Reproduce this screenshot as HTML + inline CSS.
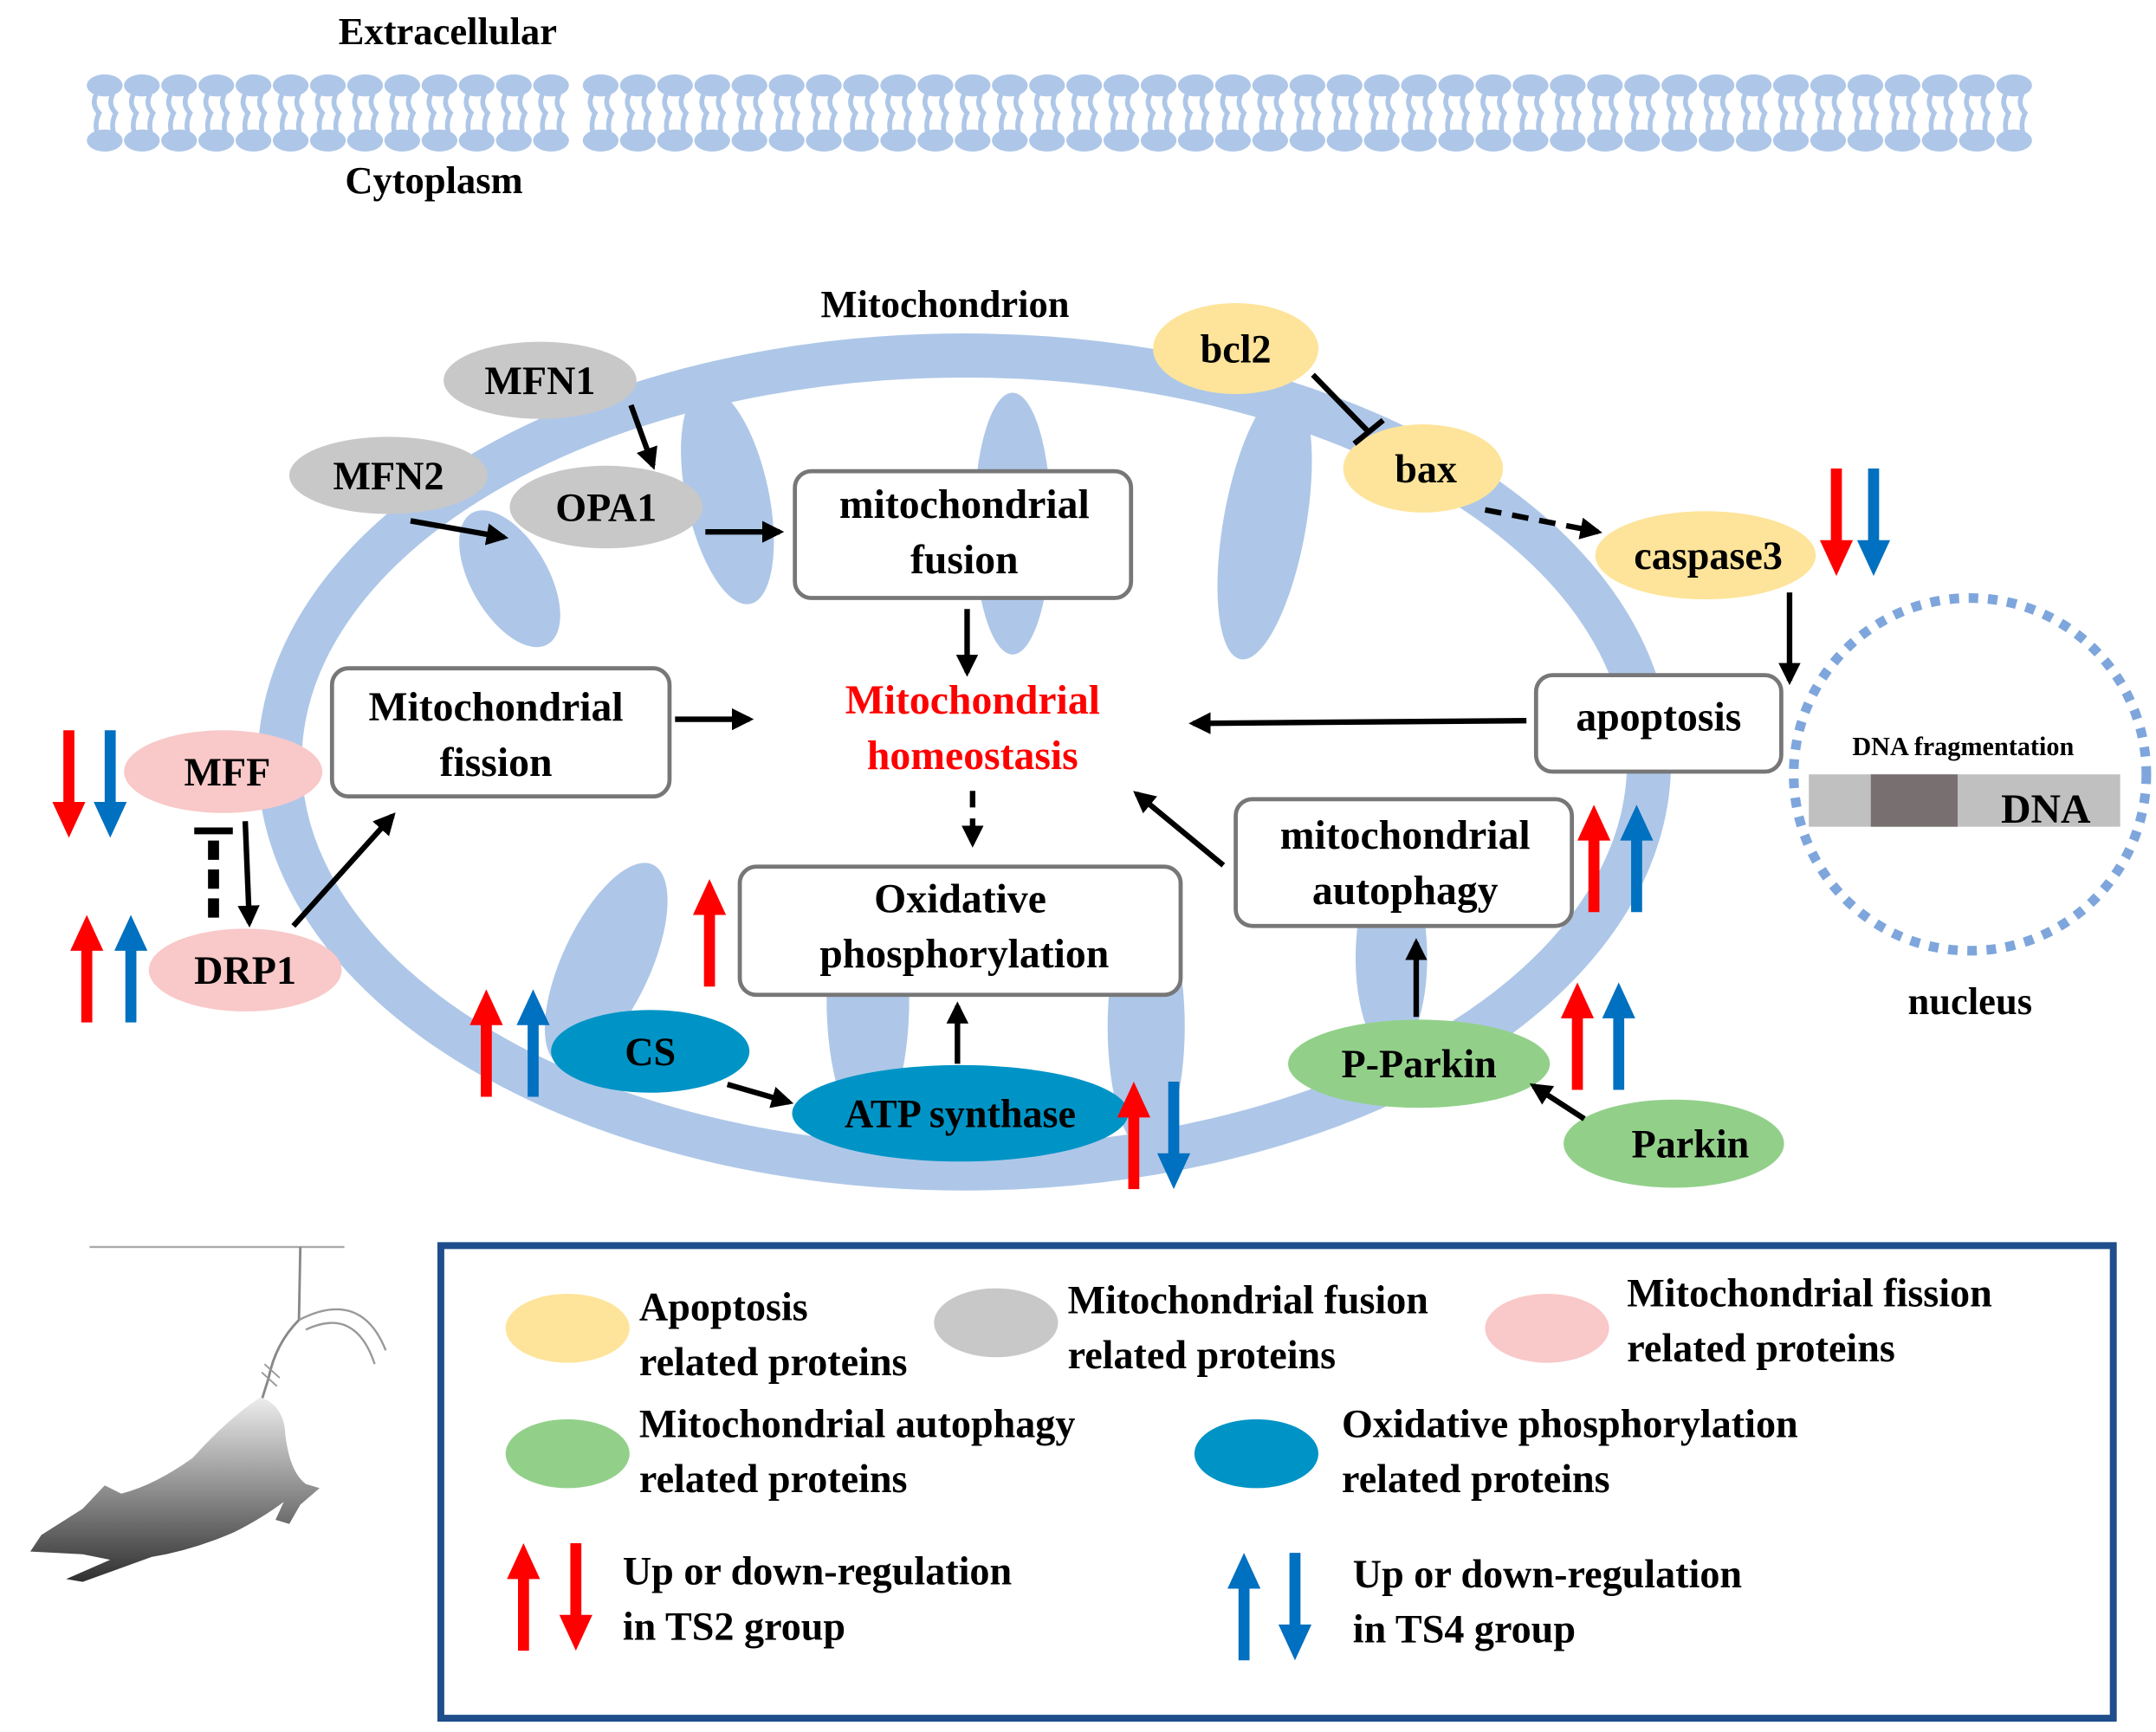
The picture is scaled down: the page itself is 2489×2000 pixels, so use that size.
<!DOCTYPE html>
<html><head><meta charset="utf-8"><style>html,body{margin:0;padding:0;background:#fff}svg{display:block}text{font-family:"Liberation Serif","Times New Roman","DejaVu Serif",serif;font-weight:bold}</style></head><body>
<svg width="2489" height="2000" viewBox="0 0 1565 1257" preserveAspectRatio="none" xmlns="http://www.w3.org/2000/svg">
<defs>
<marker id="ah" viewBox="0 0 10 10" refX="8" refY="5" markerWidth="4" markerHeight="4" orient="auto"><path d="M0,0 L10,5 L0,10 z" fill="#000"/></marker>
<g id="up"><polygon points="0,0 -12,26 -4,26 -4,78 4,78 4,26 12,26"/></g>
<g id="dn"><polygon points="0,78 -12,52 -4,52 -4,0 4,0 4,52 12,52"/></g>
<g id="lip"><ellipse cx="0" cy="0" rx="13" ry="8" fill="#aec7e8"/><ellipse cx="0" cy="40" rx="13" ry="8" fill="#aec7e8"/><path d="M-6,6 q-4,8 2,14 q-4,8 -1,16 M6,6 q-4,8 2,14 q-4,8 -1,16" stroke="#aec7e8" stroke-width="3.5" fill="none"/></g>
<linearGradient id="mg" x1="0" y1="0" x2="0" y2="1"><stop offset="0" stop-color="#ededed"/><stop offset="1" stop-color="#303030"/></linearGradient>
</defs>
<text x="325" y="32" font-size="28" text-anchor="middle">Extracellular</text>
<text x="315" y="140" font-size="28" text-anchor="middle">Cytoplasm</text>
<g>
<use href="#lip" x="76" y="62"/><use href="#lip" x="103" y="62"/><use href="#lip" x="130" y="62"/><use href="#lip" x="157" y="62"/><use href="#lip" x="184" y="62"/><use href="#lip" x="211" y="62"/><use href="#lip" x="238" y="62"/><use href="#lip" x="265" y="62"/><use href="#lip" x="292" y="62"/><use href="#lip" x="319" y="62"/><use href="#lip" x="346" y="62"/><use href="#lip" x="373" y="62"/><use href="#lip" x="400" y="62"/><use href="#lip" x="436" y="62"/><use href="#lip" x="463" y="62"/><use href="#lip" x="490" y="62"/><use href="#lip" x="517" y="62"/><use href="#lip" x="544" y="62"/><use href="#lip" x="571" y="62"/><use href="#lip" x="598" y="62"/><use href="#lip" x="625" y="62"/><use href="#lip" x="652" y="62"/><use href="#lip" x="679" y="62"/><use href="#lip" x="706" y="62"/><use href="#lip" x="733" y="62"/><use href="#lip" x="760" y="62"/><use href="#lip" x="787" y="62"/><use href="#lip" x="814" y="62"/><use href="#lip" x="841" y="62"/><use href="#lip" x="868" y="62"/><use href="#lip" x="895" y="62"/><use href="#lip" x="922" y="62"/><use href="#lip" x="949" y="62"/><use href="#lip" x="976" y="62"/><use href="#lip" x="1003" y="62"/><use href="#lip" x="1030" y="62"/><use href="#lip" x="1057" y="62"/><use href="#lip" x="1084" y="62"/><use href="#lip" x="1111" y="62"/><use href="#lip" x="1138" y="62"/><use href="#lip" x="1165" y="62"/><use href="#lip" x="1192" y="62"/><use href="#lip" x="1219" y="62"/><use href="#lip" x="1246" y="62"/><use href="#lip" x="1273" y="62"/><use href="#lip" x="1300" y="62"/><use href="#lip" x="1327" y="62"/><use href="#lip" x="1354" y="62"/><use href="#lip" x="1381" y="62"/><use href="#lip" x="1408" y="62"/><use href="#lip" x="1435" y="62"/><use href="#lip" x="1462" y="62"/>
</g>
<text x="686" y="230" font-size="28" text-anchor="middle">Mitochondrion</text>
<g fill="#aec7e8">
<ellipse cx="370" cy="420" rx="28" ry="55" transform="rotate(-30 370 420)"/>
<ellipse cx="528" cy="360" rx="30" ry="80" transform="rotate(-12 528 360)"/>
<ellipse cx="735" cy="380" rx="28" ry="95"/>
<ellipse cx="918" cy="380" rx="30" ry="100" transform="rotate(10 918 380)"/>
<ellipse cx="440" cy="700" rx="32" ry="80" transform="rotate(25 440 700)"/>
<ellipse cx="630" cy="725" rx="30" ry="95"/>
<ellipse cx="832" cy="745" rx="28" ry="90"/>
<ellipse cx="1010" cy="695" rx="26" ry="70"/>
</g>
<ellipse cx="700" cy="553" rx="497" ry="295" fill="none" stroke="#aec7e8" stroke-width="32"/>
<circle cx="1430" cy="562" r="128" fill="none" stroke="#7ea6dc" stroke-width="7" stroke-dasharray="7 7"/>
<rect x="1313" y="562" width="226" height="38" fill="#c0c0c0"/>
<rect x="1358" y="562" width="63" height="38" fill="#787070"/>
<text x="1425" y="548" font-size="19" text-anchor="middle">DNA fragmentation</text>
<text x="1485" y="597" font-size="30" text-anchor="middle">DNA</text>
<text x="1430" y="736" font-size="28" text-anchor="middle">nucleus</text>
<g fill="#fff" stroke="#777" stroke-width="3">
<rect x="577" y="342" width="244" height="92" rx="12"/>
<rect x="241" y="485" width="245" height="93" rx="12"/>
<rect x="537" y="629" width="320" height="93" rx="12"/>
<rect x="1115" y="490" width="178" height="70" rx="12"/>
<rect x="897" y="580" width="244" height="92" rx="12"/>
</g>
<g font-size="30" text-anchor="middle">
<text x="700" y="376">mitochondrial</text><text x="700" y="416">fusion</text>
<text x="360" y="523">Mitochondrial</text><text x="360" y="563">fission</text>
<text x="697" y="662">Oxidative</text><text x="700" y="702">phosphorylation</text>
<text x="1204" y="530">apoptosis</text>
<text x="1020" y="616">mitochondrial</text><text x="1020" y="656">autophagy</text>
<text x="706" y="518" fill="#ff0000">Mitochondrial</text><text x="706" y="558" fill="#ff0000">homeostasis</text>
</g>
<g>
<ellipse cx="392" cy="276" rx="70" ry="28" fill="#c8c8c8"/>
<ellipse cx="282" cy="345" rx="72" ry="28" fill="#c8c8c8"/>
<ellipse cx="440" cy="368" rx="70" ry="30" fill="#c8c8c8"/>
<ellipse cx="897" cy="253" rx="60" ry="33" fill="#fde49a"/>
<ellipse cx="1033" cy="340" rx="58" ry="32" fill="#fde49a"/>
<ellipse cx="1238" cy="403" rx="80" ry="32" fill="#fde49a"/>
<ellipse cx="162" cy="560" rx="72" ry="30" fill="#f9c8c8"/>
<ellipse cx="178" cy="704" rx="70" ry="30" fill="#f9c8c8"/>
<ellipse cx="472" cy="763" rx="72" ry="30" fill="#0094c6"/>
<ellipse cx="697" cy="808" rx="122" ry="35" fill="#0094c6"/>
<ellipse cx="1030" cy="772" rx="95" ry="32" fill="#92d08a"/>
<ellipse cx="1215" cy="830" rx="80" ry="32" fill="#92d08a"/>
</g>
<g font-size="29" text-anchor="middle">
<text x="392" y="286">MFN1</text><text x="282" y="355">MFN2</text><text x="440" y="378">OPA1</text>
<text x="897" y="263">bcl2</text><text x="1035" y="350">bax</text><text x="1240" y="413">caspase3</text>
<text x="165" y="570">MFF</text><text x="178" y="714">DRP1</text>
<text x="472" y="773">CS</text><text x="697" y="818">ATP synthase</text>
<text x="1030" y="782">P-Parkin</text><text x="1227" y="840">Parkin</text>
</g>
<g stroke="#000" stroke-width="4" fill="none" marker-end="url(#ah)">
<line x1="458" y1="294" x2="474" y2="338"/>
<line x1="298" y1="378" x2="366" y2="390"/>
<line x1="512" y1="386" x2="566" y2="386"/>
<line x1="702" y1="442" x2="702" y2="488"/>
<line x1="490" y1="522" x2="544" y2="522"/>
<line x1="1108" y1="523" x2="866" y2="525"/>
<line x1="1299" y1="430" x2="1299" y2="494"/>
<line x1="888" y1="628" x2="825" y2="576"/>
<line x1="1028" y1="738" x2="1028" y2="684"/>
<line x1="1150" y1="812" x2="1113" y2="788"/>
<line x1="695" y1="772" x2="695" y2="730"/>
<line x1="528" y1="787" x2="573" y2="800"/>
<line x1="213" y1="672" x2="285" y2="592"/>
<line x1="178" y1="596" x2="181" y2="670"/>
</g>
<g stroke="#000" stroke-width="4" fill="none" stroke-dasharray="12 8">
<line x1="706" y1="574" x2="706" y2="612" marker-end="url(#ah)"/>
<line x1="1078" y1="370" x2="1160" y2="386" marker-end="url(#ah)"/>
</g>
<line x1="953" y1="272" x2="994" y2="314" stroke="#000" stroke-width="4"/>
<line x1="983" y1="322" x2="1004" y2="305" stroke="#000" stroke-width="4"/>
<line x1="155" y1="610" x2="155" y2="668" stroke="#000" stroke-width="8" stroke-dasharray="14 7"/>
<line x1="141" y1="603" x2="169" y2="603" stroke="#000" stroke-width="5"/>
<g fill="#ff0000">
<use href="#dn" x="1333" y="340"/><use href="#dn" x="50" y="530"/><use href="#up" x="63" y="664"/>
<use href="#up" x="515" y="638"/><use href="#up" x="353" y="718"/><use href="#up" x="823" y="785"/>
<use href="#up" x="1157" y="584"/><use href="#up" x="1145" y="713"/>
<use href="#up" x="380" y="1120"/><use href="#dn" x="418" y="1120"/>
</g>
<g fill="#0070c0">
<use href="#dn" x="1360" y="340"/><use href="#dn" x="80" y="530"/><use href="#up" x="95" y="664"/>
<use href="#up" x="387" y="718"/><use href="#dn" x="852" y="785"/>
<use href="#up" x="1188" y="584"/><use href="#up" x="1175" y="713"/>
<use href="#up" x="903" y="1127"/><use href="#dn" x="940" y="1127"/>
</g>
<!-- mouse -->
<line x1="65" y1="905" x2="250" y2="905" stroke="#aaa" stroke-width="1.5"/>
<path d="M218,905 L217,958 Q200,975 195,1000 L190,1016" stroke="#888" stroke-width="1.8" fill="none"/>
<path d="M217,958 Q262,935 280,980 M222,965 Q258,948 272,990" stroke="#999" stroke-width="1.5" fill="none"/>
<path d="M192,990 L203,1000 M190,996 L201,1006" stroke="#999" stroke-width="1.2"/>
<path d="M189,1014 Q206,1020 207,1040 Q210,1068 222,1077 L232,1080 L218,1092 L210,1106 L200,1103 L206,1090 Q190,1102 170,1112 Q140,1125 110,1130 L60,1148 L48,1146 L80,1132 L60,1128 L22,1126 L30,1114 L60,1095 L76,1078 L88,1084 Q112,1078 140,1058 Q165,1030 189,1014 Z" fill="url(#mg)"/>
<rect x="320" y="904" width="1214" height="343" fill="none" stroke="#1f4e8c" stroke-width="5"/>
<ellipse cx="412" cy="964" rx="45" ry="25" fill="#fde49a"/>
<ellipse cx="723" cy="960" rx="45" ry="25" fill="#c8c8c8"/>
<ellipse cx="1123" cy="964" rx="45" ry="25" fill="#f9c8c8"/>
<ellipse cx="412" cy="1055" rx="45" ry="25" fill="#92d08a"/>
<ellipse cx="912" cy="1055" rx="45" ry="25" fill="#0094c6"/>
<g font-size="29">
<text x="464" y="958">Apoptosis</text><text x="464" y="998">related proteins</text>
<text x="775" y="953">Mitochondrial fusion</text><text x="775" y="993">related proteins</text>
<text x="1181" y="948">Mitochondrial fission</text><text x="1181" y="988">related proteins</text>
<text x="464" y="1043">Mitochondrial autophagy</text><text x="464" y="1083">related proteins</text>
<text x="974" y="1043">Oxidative phosphorylation</text><text x="974" y="1083">related proteins</text>
<text x="452" y="1150">Up or down-regulation</text><text x="452" y="1190">in TS2 group</text>
<text x="982" y="1152">Up or down-regulation</text><text x="982" y="1192">in TS4 group</text>
</g>
</svg>
</body></html>
